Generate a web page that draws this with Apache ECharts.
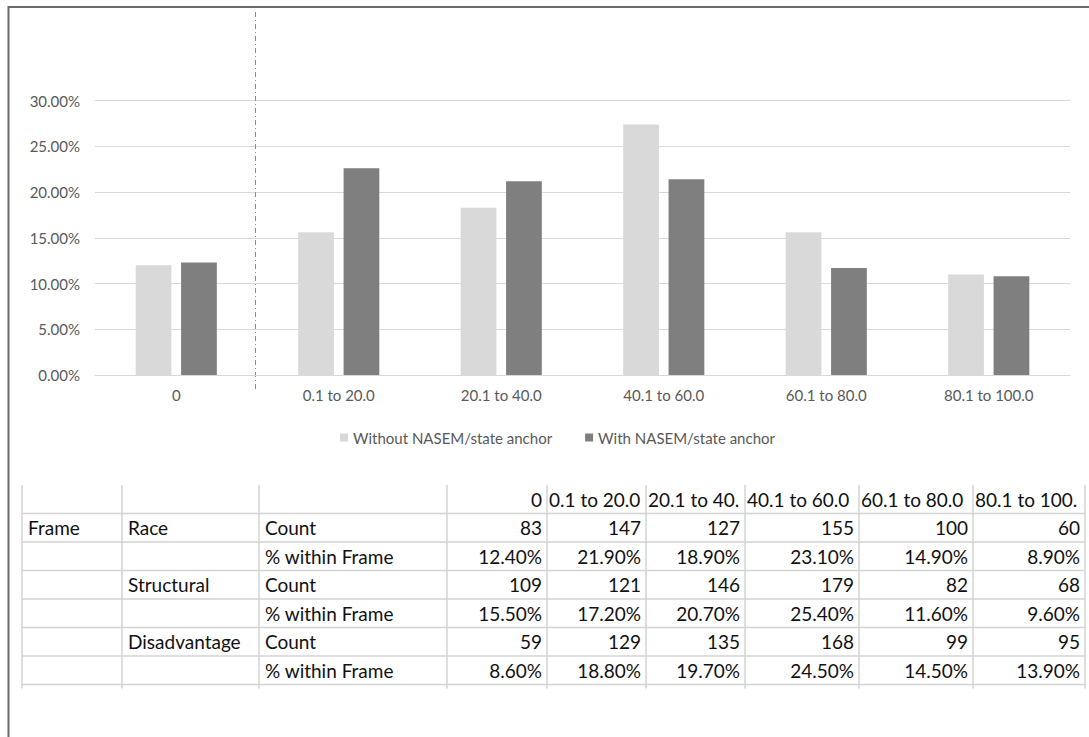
<!DOCTYPE html>
<html>
<head>
<meta charset="utf-8">
<script src="https://cdn.jsdelivr.net/npm/echarts@6/dist/echarts.min.js"></script>
<style>
  html, body { margin: 0; padding: 0; background: #ffffff; }
  #chart { width: 1089px; height: 737px; }
</style>
</head>
<body>
<div id="chart"></div>
<script>
// ---- chart data ----
const categories = ['0', '0.1 to 20.0', '20.1 to 40.0', '40.1 to 60.0', '60.1 to 80.0', '80.1 to 100.0'];
const seriesNames = ['Without NASEM/state anchor', 'With NASEM/state anchor'];
const withoutAnchor = [12.0, 15.6, 18.3, 27.4, 15.6, 11.0];
const withAnchor = [12.3, 22.6, 21.2, 21.4, 11.7, 10.8];
const yMin = 0, yMax = 30, yStep = 5;

// ---- crosstab data ----
const frameLabel = 'Frame';
const frames = ['Race', 'Structural', 'Disadvantage'];
const measures = ['Count', '% within Frame'];
const raceCount = [83, 147, 127, 155, 100, 60];
const racePct = [12.4, 21.9, 18.9, 23.1, 14.9, 8.9];
const structuralCount = [109, 121, 146, 179, 82, 68];
const structuralPct = [15.5, 17.2, 20.7, 25.4, 11.6, 9.6];
const disadvantageCount = [59, 129, 135, 168, 99, 95];
const disadvantagePct = [8.6, 18.8, 19.7, 24.5, 14.5, 13.9];

// ---- styling / layout ----
const FONT = 'Lato, "Noto Sans", sans-serif';
const AXIS_GREY = '#595959';
const GRID_GREY = '#d9d9d9';
const LIGHT_BAR = '#d9d9d9';
const DARK_BAR = '#7f7f7f';
const colEdges = [22, 122, 259, 447, 547, 646, 745, 859, 973, 1085];
const rowEdges = [485, 513.5, 542, 570.5, 599, 627.5, 656, 684.5];

const chart = echarts.init(document.getElementById('chart'), null, { renderer: 'svg' });

chart.setOption({
  animation: false,
  backgroundColor: '#ffffff',
  textStyle: { fontFamily: FONT },
  grid: { left: 95, right: 19, top: 100.7, bottom: 362, containLabel: false },
  legend: {
    data: seriesNames,
    left: 335,
    top: 425,
    icon: 'rect',
    itemWidth: 8,
    itemHeight: 8,
    itemGap: 33,
    textStyle: { color: AXIS_GREY, fontSize: 15, fontFamily: FONT }
  },
  xAxis: {
    type: 'category',
    data: categories,
    axisLine: { lineStyle: { color: GRID_GREY, width: 1 } },
    axisTick: { show: false },
    axisLabel: { color: AXIS_GREY, fontSize: 15, fontFamily: FONT, margin: 12 }
  },
  yAxis: {
    type: 'value',
    min: yMin,
    max: yMax,
    interval: yStep,
    axisLine: { show: false },
    axisTick: { show: false },
    axisLabel: {
      color: AXIS_GREY, fontSize: 15, fontFamily: FONT, margin: 15,
      formatter: v => v.toFixed(2) + '%'
    },
    splitLine: { lineStyle: { color: GRID_GREY, width: 1 } }
  },
  series: [
    { name: seriesNames[0], type: 'bar', data: withoutAnchor, barWidth: '22%', barGap: '27%',
      itemStyle: { color: LIGHT_BAR } },
    { name: seriesNames[1], type: 'bar', data: withAnchor, barWidth: '22%', barGap: '27%',
      itemStyle: { color: DARK_BAR } }
  ]
});

// ---- decorations and crosstab drawn as graphic elements ----
const elements = [];

// outer frame (top and left edges)
elements.push({ type: 'line', shape: { x1: 8, y1: 7, x2: 1089, y2: 7 }, style: { stroke: '#6b6b6b', lineWidth: 2 } });
elements.push({ type: 'line', shape: { x1: 8.5, y1: 6, x2: 8.5, y2: 737 }, style: { stroke: '#6b6b6b', lineWidth: 2 } });

// dash-dot divider between the zero group and the ranged groups
const xa = chart.convertToPixel({ xAxisIndex: 0 }, categories[0]);
const xb = chart.convertToPixel({ xAxisIndex: 0 }, categories[1]);
const xDiv = Math.round((xa + xb) / 2) - 2.5;
elements.push({
  type: 'line',
  shape: { x1: xDiv, y1: 12, x2: xDiv, y2: 392 },
  style: { stroke: '#8a8a8a', lineWidth: 1, lineDash: [5, 3, 1, 3] }
});

// crosstab rows
const tableRows = [['', '', ''].concat(categories)];
[[raceCount, racePct], [structuralCount, structuralPct], [disadvantageCount, disadvantagePct]].forEach((pair, fi) => {
  tableRows.push([fi === 0 ? frameLabel : '', frames[fi], measures[0]].concat(pair[0].map(String)));
  tableRows.push(['', '', measures[1]].concat(pair[1].map(v => v.toFixed(2) + '%')));
});

const TABLE_LINE = '#d3d3d3';
const lastCol = colEdges[colEdges.length - 1];
for (let r = 1; r < rowEdges.length; r++) {
  elements.push({ type: 'line', shape: { x1: colEdges[0], y1: rowEdges[r], x2: lastCol, y2: rowEdges[r] },
    style: { stroke: TABLE_LINE, lineWidth: 1.5 } });
}
colEdges.forEach(x => {
  elements.push({ type: 'line', shape: { x1: x, y1: rowEdges[0], x2: x, y2: rowEdges[rowEdges.length - 1] + 4 },
    style: { stroke: TABLE_LINE, lineWidth: 1.5 } });
});

const isNumeric = s => s !== '' && !isNaN(Number(String(s).replace('%', '')));
tableRows.forEach((row, r) => {
  const yc = (rowEdges[r] + rowEdges[r + 1]) / 2;
  row.forEach((txt, c) => {
    if (txt === '') return;
    const left = colEdges[c], right = colEdges[c + 1];
    const rightAlign = c >= 3 && isNumeric(txt);
    const pad = r === 0 ? 2 : 6;
    elements.push({
      type: 'text',
      style: {
        text: txt,
        x: rightAlign ? right - 5 : left + pad,
        y: yc,
        width: right - left - pad,
        overflow: 'truncate',
        ellipsis: '',
        font: '19px ' + FONT,
        fill: '#111111',
        align: rightAlign ? 'right' : 'left',
        verticalAlign: 'middle'
      }
    });
  });
});

chart.setOption({ graphic: { elements: elements } });
</script>
</body>
</html>
